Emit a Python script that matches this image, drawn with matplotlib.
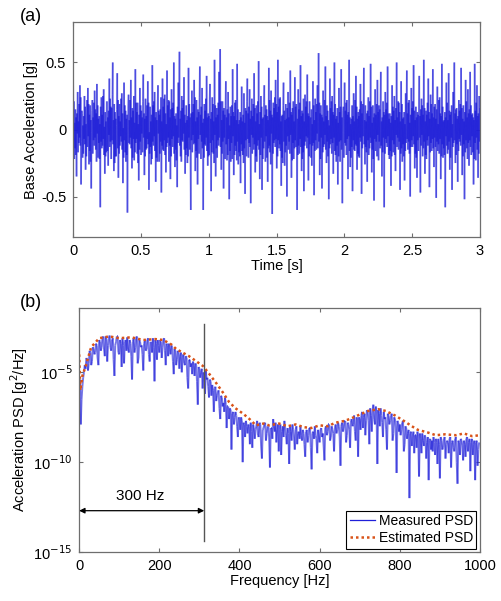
import numpy as np
import matplotlib
matplotlib.use("Agg")
import matplotlib.pyplot as plt
from matplotlib.collections import LineCollection
from matplotlib.lines import Line2D

plt.rcParams['font.family'] = ['Liberation Sans', 'DejaVu Sans']

# ---- Panel (a): base acceleration time history, in hundredths of g ----
time_span = [0.0, 3.0]
base_accel_cg = [
    40, -8, 21, -22, 5, -14, 15, -19, 9, -35, 12, -3, 28, -17, 6, -10, 19, -6, 33, -12, 24, -41, -9, 14, 12, -21, 3, -18, 10, -7,
    25, -11, 17, -30, 4, -20, 5, 22, -13, 31, -5, 19, -26, 11, -16, 18, -24, 7, -44, -2, 14, 22, -18, 9, -8, 20, -12, 29, -6, 15,
    -15, 12, -24, 34, -3, 18, -21, 8, -10, 10, -22, 4, -58, 17, -9, 24, -14, 11, -12, 25, -7, 30, -19, 2, -33, 13, -20, 6, -17, 21,
    21, -16, 9, -27, 14, -4, 38, -13, 23, -9, 17, -22, 16, -8, 26, 50, -11, 7, -31, 19, -25, 13, -20, 8, -20, 3, 15, 42, -14, 22,
    -36, 10, -18, 19, -12, 6, -5, 23, -9, 27, -15, 12, -40, 1, -21, 35, -8, 18, -17, 14, -24, 8, -19, 11, -62, -4, 16, 26, -10, 7,
    -11, 22, -6, 37, -14, 9, -29, 16, -21, 14, -7, 25, -23, 5, -17, 45, -10, 20, -7, 13, -18, 20, -25, 4, -38, 11, -15, 31, -9, 18,
    -19, 14, -3, 9, -17, 21, 41, -6, 12, -34, 8, -20, 23, -15, 10, -14, 18, -7, 36, -11, 20, -45, -2, -18, 17, -13, 6, -26, 11, -22,
    48, -9, 18, -12, 21, -5, 28, -16, 9, -39, 13, -21, 7, -24, 19, 33, -3, 14, -24, 11, -18, 15, -9, 24, -47, 6, -12, 38, -15, 17,
    -16, 23, -8, 26, -19, 12, -32, 4, -13, 44, -10, 18, -6, 22, -24, 21, -12, 9, -37, 15, -20, 30, -7, 16, -13, 20, -5, 50, -18, 10,
    -28, 8, -15, 12, -23, 3, -43, 17, -10, 35, -6, 21, 58, -12, 8, -20, 14, -24, 25, -8, 16, -9, 22, -3, 39, -15, 11, -33, 5, -19,
    18, -14, 7, -25, 10, -20, 46, -6, 19, -15, 9, -22, -60, 12, -8, 29, -17, 13, -4, 19, -11, 37, -10, 24, -31, 6, -16, 22, -21, 9,
    -41, 15, -7, 13, -18, 24, 47, -4, 11, -22, 17, -9, 31, -14, 5, -60, 8, -21, 19, -11, 14, -12, 23, -6, 40, -16, 9, -27, 12, -20,
    10, -19, 22, 34, -10, 8, -46, 13, -17, 24, -8, 19, -18, 6, -25, 52, -4, 18, -35, 9, -14, 16, -21, 11, -8, 20, -12, 43, -6, 17,
    60, -13, 21, -30, 7, -18, 21, -9, 14, -44, 16, -6, 11, -22, 18, 36, -11, 9, -23, 15, -19, 28, -7, 12, -52, 3, -16, 17, -24, 10,
    -10, 18, -22, 45, -5, 13, -34, 10, -19, 20, -12, 22, -16, 7, -23, 49, -9, 15, -26, 4, -17, 7, -20, 13, -40, 9, -11, 32, -16, 6,
    -19, 11, -25, 27, -14, 5, -48, 16, -8, 14, -20, 21, 38, -7, 12, -21, 17, -10, 30, -13, 8, -55, 14, -4, 23, -18, 10, -6, 19, -15,
    42, -11, 16, -32, 6, -20, 18, -24, 12, -12, 21, -8, 51, -15, 4, -37, 13, -19, 25, -6, 17, -45, 8, -22, 9, -14, 20, 33, -9, 11,
    -24, 18, -5, 15, -21, 10, -39, 7, -14, 46, -12, 22, -17, 14, -26, 29, -3, 11, -63, 9, -18, 20, -10, 16, -8, 24, -13, 37, -7, 19,
    -29, 13, -20, 52, -8, 17, -14, 23, -11, 24, -16, 6, -42, 10, -21, 11, -25, 18, 35, -9, 14, -27, 7, -17, 19, -12, 8, -50, 16, -5,
    28, -15, 9, -9, 20, -18, 44, -4, 13, -36, 11, -23, 16, -10, 21, -22, 6, -14, 39, -8, 17, -13, 19, -5, -60, 8, -19, 30, -12, 15,
    -18, 20, -7, 48, -13, 10, -31, 14, -22, 12, -17, 23, -46, 6, -12, 26, -9, 17, -5, 21, -14, 41, -6, 12, -38, 10, -20, 21, -11, 7,
    9, -21, 15, -27, 4, -12, 36, -10, 18, -49, 7, -16, 23, -8, 13, -15, 19, -3, 33, -14, 6, 57, -9, 20, -34, 12, -22, 18, -6, 11,
    -44, 9, -17, 29, -13, 6, -11, 22, -4, 47, -15, 10, -25, 18, -9, 14, -20, 7, -52, 3, -14, 38, -11, 16, -7, 21, -18, 25, -10, 13,
    -33, 11, -6, 50, -16, 19, -19, 8, -24, 10, -12, 16, -41, 5, -20, 31, -9, 13, -24, 17, -8, 45, -15, 9, -55, -2, 14, 17, -21, 8,
    35, -10, 14, -12, 20, -19, 22, -7, 11, -37, 13, -5, 52, -16, 9, -28, 4, -21, 8, -13, 18, -46, 10, -8, 27, -15, 6, -16, 22, -11,
    40, -12, 17, -30, 8, -18, 13, -20, 10, -21, 15, -6, 34, -9, 21, -48, 12, -14, 19, -5, 16, 46, -11, 7, -26, 18, -13, 6, -17, 12,
    -39, 14, -8, 24, -19, 10, -14, 21, -6, 49, -10, 17, -32, 5, -15, 18, -22, 9, -53, 12, -7, 30, -16, 11, -9, 19, -20, 37, -4, 13,
    -23, 18, -9, 15, -14, 22, 43, -12, 6, -35, 9, -17, 21, -6, 13, -58, 11, -18, 28, -7, 15, -10, 20, -13, 47, -5, 12, -19, 8, -22,
    12, -16, 5, -42, 10, -20, 33, -8, 17, -17, 14, -11, 25, -19, 7, -31, 16, -4, 50, -13, 9, -6, 21, -15, 20, -9, 13, -45, 6, -18,
    36, -14, 19, -24, 8, -11, 9, -20, 13, -38, 4, -16, 27, -10, 15, 44, -7, 12, -15, 20, -9, 22, -18, 5, -50, 11, -13, 31, -8, 16,
    -13, 21, -5, 48, -11, 14, -29, 7, -18, 17, -21, 9, -36, 13, -8, 11, -16, 19, 40, -6, 10, -47, 15, -12, 23, -4, 18, -20, 11, -14,
    52, -9, 16, -33, 6, -19, 14, -22, 11, -8, 20, -12, 38, -5, 13, -43, 8, -17, 26, -10, 19, -16, 12, -7, 45, -14, 9, -28, 17, -6,
    19, -13, 8, -51, 15, -9, 32, -16, 4, -11, 22, -18, 24, -7, 12, -37, 10, -20, 49, -11, 17, -21, 6, -14, 7, -19, 13, -58, 9, -5,
    35, -12, 20, -18, 7, -15, 42, -9, 14, -30, 11, -21, 13, -6, 18, -45, 4, -13, 28, -10, 17, 50, -8, 12, -25, 15, -19, 16, -11, 8,
    -39, 10, -16, 22, -7, 14, -9, 19, -12, 46, -4, 16, -34, 8, -20, 18, -11, 6, -52, 13, -17, 37, -8, 21, -14, 9, -22, 30, -10, 12,
    -27, 15, -8, 43, -13, 18, -19, 11, -5, 12, -17, 9, -41, 7, -22, 49, -10, 14, -23, 20, -6, 33, -15, 10, -36, 12, -18, 25, -9, 16,
]
time_ticks = [0, 0.5, 1, 1.5, 2, 2.5, 3]
time_tick_labels = ["0", "0.5", "1", "1.5", "2", "2.5", "3"]
accel_ticks = [-0.5, 0, 0.5]
accel_tick_labels = ["-0.5", "0", "0.5"]

# ---- Panel (b): PSD [log10 g^2/Hz] ----
meas_freq_step = 2  # Hz between measured PSD points
meas_log_psd = [
    -6.3, -5.4, -7.9, -6.5, -5.8, -5.3, -5.0, -4.6, -4.8, -4.2, -4.3, -4.9, -4.5, -3.8, -3.9, -4.6, -4.4, -3.6, -3.7, -4.0,
    -3.9, -3.4, -3.5, -4.2, -4.6, -3.2, -3.3, -3.8, -3.6, -3.1, -3.0, -3.7, -4.1, -3.0, -3.2, -4.4, -3.5, -3.1, -2.95, -3.6,
    -3.8, -3.2, -3.1, -4.3, -5.2, -3.5, -3.3, -3.0, -3.0, -3.9, -4.0, -3.2, -3.4, -4.7, -3.1, -3.5, -4.5, -3.3, -3.2, -3.8,
    -3.05, -3.7, -3.9, -3.2, -3.4, -4.1, -5.4, -3.3, -3.1, -3.9, -3.6, -3.1, -3.0, -4.5, -4.2, -3.2, -3.3, -3.6, -3.5, -4.0,
    -4.9, -3.4, -3.2, -3.8, -3.7, -3.2, -3.1, -4.0, -4.4, -3.3, -3.3, -3.9, -3.1, -3.6, -5.5, -3.2, -3.4, -4.3, -3.2, -3.5,
    -3.9, -3.2, -3.3, -4.2, -3.6, -3.2, -3.1, -3.8, -4.6, -3.4, -3.5, -4.1, -3.4, -3.7, -4.0, -3.5, -3.6, -4.4, -5.1, -3.7,
    -3.8, -4.6, -4.3, -3.8, -3.9, -4.8, -4.1, -3.9, -5.0, -4.2, -4.0, -4.5, -4.6, -4.1, -4.2, -5.3, -5.9, -4.3, -4.3, -4.7,
    -4.5, -5.1, -4.4, -4.6, -5.2, -4.5, -4.6, -5.5, -6.8, -4.7, -4.8, -5.3, -5.0, -4.8, -5.9, -5.0, -5.1, -6.2, -4.9, -5.4,
    -5.3, -5.8, -6.4, -5.4, -5.5, -6.3, -5.7, -6.0, -7.2, -5.9, -5.8, -6.6, -6.3, -6.1, -6.0, -7.0, -7.6, -6.3, -6.4, -6.9,
    -6.7, -7.2, -6.4, -6.8, -8.1, -6.9, -6.9, -7.6, -7.0, -7.1, -9.3, -7.3, -7.2, -7.9, -7.5, -7.2, -7.4, -8.0, -8.6, -7.5,
    -7.6, -8.2, -7.5, -7.7, -10.0, -7.8, -7.9, -8.6, -7.7, -8.0, -8.4, -7.9, -8.0, -9.0, -7.8, -8.3, -9.2, -7.9, -8.1, -8.7,
    -8.2, -8.0, -7.7, -8.5, -8.6, -7.8, -7.9, -9.1, -9.8, -8.2, -8.1, -7.9, -7.8, -8.8, -8.4, -8.0, -8.0, -8.6, -10.3, -8.1,
    -8.1, -8.7, -7.6, -8.0, -8.3, -7.8, -8.9, -8.2, -7.9, -9.4, -8.2, -7.9, -9.6, -8.3, -8.0, -8.6, -7.7, -8.1, -8.5, -9.0,
    -8.1, -8.4, -10.1, -8.0, -8.3, -8.8, -7.9, -8.2, -8.6, -9.3, -8.2, -8.0, -9.0, -8.4, -8.3, -8.7, -8.0, -8.5, -8.8, -8.2,
    -8.4, -9.0, -9.7, -8.3, -8.2, -8.9, -8.5, -8.1, -8.1, -9.2, -10.4, -8.4, -8.3, -8.7, -8.0, -8.5, -8.7, -9.5, -8.2, -8.6,
    -8.9, -8.2, -8.1, -8.6, -8.4, -9.1, -9.9, -8.1, -8.0, -8.5, -8.3, -7.9, -7.9, -8.8, -8.6, -8.0, -8.2, -8.4, -9.4, -8.1,
    -7.9, -8.4, -8.2, -7.8, -8.0, -8.6, -10.2, -8.0, -7.8, -8.3, -8.1, -7.7, -7.7, -8.9, -8.5, -7.8, -7.9, -8.2, -9.2, -7.7,
    -7.6, -8.0, -7.9, -7.4, -8.3, -8.8, -7.5, -7.6, -9.7, -7.5, -7.6, -8.2, -7.4, -7.2, -8.1, -7.5, -7.3, -8.5, -7.7, -7.1,
    -7.2, -7.7, -9.0, -7.0, -7.4, -8.3, -7.1, -6.8, -7.6, -7.9, -6.9, -7.2, -10.1, -7.1, -7.3, -8.0, -7.0, -7.4, -7.8, -8.6,
    -7.2, -7.6, -7.5, -8.2, -9.3, -7.3, -7.4, -7.9, -7.7, -7.4, -7.3, -8.8, -8.4, -7.5, -7.6, -8.1, -10.6, -7.7, -7.8, -8.3,
    -7.9, -8.5, -8.2, -7.8, -7.7, -9.4, -9.0, -8.0, -8.1, -8.7, -8.4, -8.2, -12.0, -8.4, -8.3, -9.1, -8.6, -8.3, -9.5, -8.5,
    -8.5, -9.2, -8.3, -8.6, -10.8, -8.4, -8.7, -9.5, -8.4, -8.8, -9.1, -8.5, -8.6, -9.8, -8.9, -8.6, -11.0, -8.8, -8.7, -9.3,
    -8.8, -9.4, -8.6, -8.9, -9.6, -8.7, -8.9, -10.1, -8.7, -9.0, -10.9, -8.6, -8.8, -9.3, -9.2, -8.7, -8.6, -9.8, -9.0, -8.8,
    -8.9, -9.5, -8.7, -8.6, -10.3, -8.9, -8.8, -9.2, -9.4, -8.7, -8.6, -10.0, -11.2, -8.8, -8.9, -9.6, -8.7, -8.8, -9.1, -9.9,
    -8.8, -9.0, -9.7, -8.7, -8.6, -9.4, -8.9, -8.7, -10.5, -8.9, -8.7, -9.6, -9.0, -8.8, -11.0, -8.9, -8.8, -10.2, -9.3, -8.9,
]
est_freq = [0, 3, 8, 17, 30, 50, 75, 100, 130, 160, 190, 210, 230, 242, 258,
            274, 290, 309, 325, 342, 358, 374, 390, 409, 425, 441, 460, 474,
            499, 520, 540, 560, 579, 600, 620, 640, 663, 680, 700, 721, 746,
            765, 788, 810, 830, 845, 870, 890, 913, 940, 960, 980, 1000]
est_log_psd = [-4.0, -6.0, -5.2, -4.6, -3.6, -3.1, -3.0, -3.1, -3.05, -3.2,
               -3.15, -3.2, -3.45, -3.7, -3.9, -4.1, -4.35, -4.65, -5.1, -5.6,
               -6.1, -6.65, -7.0, -7.3, -7.6, -7.95, -7.85, -7.95, -7.85, -8.0,
               -7.9, -8.05, -8.1, -7.95, -8.0, -7.8, -7.7, -7.55, -7.35, -7.15,
               -7.05, -7.15, -7.4, -7.7, -8.0, -8.2, -8.35, -8.5, -8.45, -8.5,
               -8.4, -8.55, -8.5]
freq_ticks = [0, 200, 400, 600, 800, 1000]
psd_ticks = [1e-15, 1e-10, 1e-5]
psd_tick_labels = [r"10$^{-15}$", r"10$^{-10}$", r"10$^{-5}$"]
bandwidth_hz = 312
bandwidth_label = "300 Hz"

BLUE = (0.12, 0.12, 0.85)
RED = "#d95319"
FRAME = "#6e6e6e"

fig = plt.figure(figsize=(5.01, 6.01), dpi=100)

def style(ax):
    for s in ax.spines.values():
        s.set_color(FRAME)
        s.set_linewidth(0.9)
    ax.tick_params(direction='in', top=True, right=True, length=3,
                   color=FRAME, labelsize=10.5, pad=5)

def segments(x, y):
    pts = np.column_stack([x, y])
    return np.stack([pts[:-1], pts[1:]], axis=1)

# Panel (a)
ax1 = fig.add_axes([0.146, 0.606, 0.812, 0.357])
accel = np.array(base_accel_cg) / 100.0
t = np.linspace(time_span[0], time_span[1], len(accel))
lc1 = LineCollection(segments(t, accel), colors=[BLUE],
                     linewidths=1.2, alpha=0.55)
ax1.add_collection(lc1)
ax1.set_xlim(0, 3)
ax1.set_ylim(-0.8, 0.8)
ax1.set_xticks(time_ticks)
ax1.set_xticklabels(time_tick_labels)
ax1.set_yticks(accel_ticks)
ax1.set_yticklabels(accel_tick_labels)
ax1.set_xlabel("Time [s]", fontsize=10.5, labelpad=1)
ax1.set_ylabel("Base Acceleration [g]", fontsize=10.5, labelpad=2)
style(ax1)
fig.text(0.04, 0.972, "(a)", fontsize=13, va='center')

# Panel (b)
ax2 = fig.add_axes([0.158, 0.0815, 0.800, 0.406])
ax2.set_yscale('log')
f_meas = np.arange(len(meas_log_psd)) * meas_freq_step
lc2 = LineCollection(segments(f_meas, 10.0 ** np.array(meas_log_psd)),
                     colors=[BLUE], linewidths=1.4, alpha=0.6)
ax2.add_collection(lc2)
ax2.plot(est_freq, 10.0 ** np.array(est_log_psd), color=RED, lw=1.8,
         ls=(0, (1, 1.2)))
ax2.set_xlim(0, 1000)
ax2.set_ylim(1e-15, 10 ** -1.42)
ax2.set_xticks(freq_ticks)
ax2.set_yticks(psd_ticks)
ax2.set_yticklabels(psd_tick_labels)
ax2.yaxis.set_minor_locator(matplotlib.ticker.NullLocator())
ax2.set_xlabel("Frequency [Hz]", fontsize=10.5, labelpad=1)
ax2.set_ylabel(r"Acceleration PSD [g$^2$/Hz]", fontsize=10.5, labelpad=2)
style(ax2)

ax2.plot([bandwidth_hz, bandwidth_hz], [10 ** -2.33, 10 ** -14.4],
         color="#555555", lw=1.0)
ax2.annotate("", xy=(0, 10 ** -12.7), xytext=(bandwidth_hz, 10 ** -12.7),
             arrowprops=dict(arrowstyle='<|-|>', color='black', lw=0.9,
                             shrinkA=0, shrinkB=0, mutation_scale=8))
ax2.text(bandwidth_hz / 2 - 4, 10 ** -11.9, bandwidth_label, fontsize=11,
         ha='center', va='center')

handles = [Line2D([], [], color=(0.12, 0.12, 0.85), lw=0.9),
           Line2D([], [], color=RED, lw=1.8, ls=(0, (1, 1.2)))]
leg = ax2.legend(handles, ["Measured PSD", "Estimated PSD"],
                 loc='lower right', fontsize=10, frameon=True, fancybox=False,
                 borderpad=0.25, handlelength=1.8, handletextpad=0.3,
                 labelspacing=0.2, borderaxespad=0.25, framealpha=1)
leg.get_frame().set_edgecolor('black')
leg.get_frame().set_linewidth(0.8)
fig.text(0.04, 0.497, "(b)", fontsize=13, va='center')

fig.savefig("out.png", dpi=100)
